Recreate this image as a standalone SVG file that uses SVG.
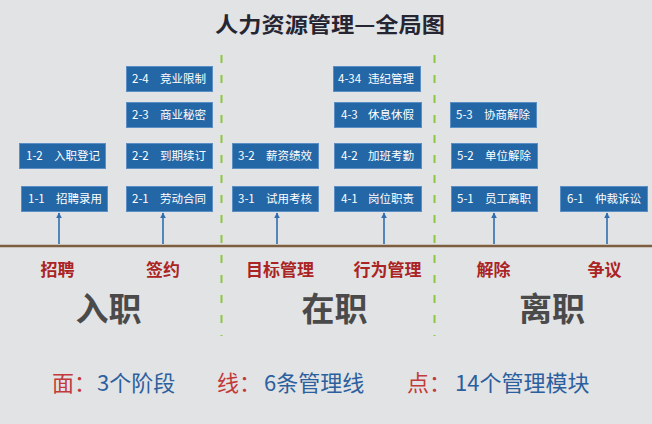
<svg xmlns="http://www.w3.org/2000/svg" width="652" height="424" viewBox="0 0 652 424">
<defs>
<marker id="ah" viewBox="0 0 10 10" refX="9" refY="5" markerWidth="6" markerHeight="6" orient="auto" markerUnits="userSpaceOnUse">
<path d="M0,0 L10,5 L0,10 z" fill="#2f6db0"/>
</marker>
</defs>
<style>
text{font-family:"Noto Sans CJK SC","Noto Sans",sans-serif;}
.box{fill:#2467a6;stroke:#5a8ec4;stroke-width:1;}
.bn{fill:#ffffff;font-size:11.5px;}
.bt{fill:#ffffff;font-size:11.5px;text-anchor:end;}
.conn{stroke:#2f6db0;stroke-width:1.6;fill:none;}
.div{stroke:#8dc63f;stroke-width:2;stroke-dasharray:8 12;fill:none;}
.lbl{fill:#ab2424;font-size:17px;font-weight:bold;text-anchor:middle;}
.big{fill:#4a4a4a;font-size:33px;font-weight:bold;text-anchor:middle;}
.r{fill:#c23a3a;font-size:22px;}
.b{fill:#2c5f9e;font-size:22px;}
</style>
<rect x="0" y="0" width="652" height="424" fill="#e2e3e5"/>
<text x="330" y="32" text-anchor="middle" font-size="21" font-weight="bold" fill="#262633" textLength="230" lengthAdjust="spacingAndGlyphs">人力资源管理—全局图</text>

<g id="dividers">
<line class="div" x1="221.5" y1="55" x2="221.5" y2="336"/>
<line class="div" x1="434.5" y1="55" x2="434.5" y2="336"/>
</g>

<line x1="0" y1="246" x2="652" y2="246" stroke="#7d5f3f" stroke-width="2.5"/>

<g id="connectors">
<line class="conn" x1="59" y1="244" x2="59" y2="213" marker-end="url(#ah)"/>
<line class="conn" x1="163" y1="244" x2="163" y2="213" marker-end="url(#ah)"/>
<line class="conn" x1="277" y1="244" x2="277" y2="213" marker-end="url(#ah)"/>
<line class="conn" x1="384" y1="244" x2="384" y2="213" marker-end="url(#ah)"/>
<line class="conn" x1="494" y1="244" x2="494" y2="213" marker-end="url(#ah)"/>
<line class="conn" x1="607" y1="244" x2="607" y2="213" marker-end="url(#ah)"/>
</g>

<g id="n1-2"><rect class="box" x="19.5" y="143.5" width="86" height="25"/><text class="bn" x="26" y="160">1-2</text><text class="bt" x="100" y="160">入职登记</text></g>
<g id="n1-1"><rect class="box" x="21.5" y="186.5" width="86" height="25"/><text class="bn" x="28" y="203">1-1</text><text class="bt" x="102" y="203">招聘录用</text></g>

<g id="n2-4"><rect class="box" x="126.5" y="66.5" width="86" height="25"/><text class="bn" x="132" y="83">2-4</text><text class="bt" x="206" y="83">竞业限制</text></g>
<g id="n2-3"><rect class="box" x="126.5" y="102.5" width="86" height="25"/><text class="bn" x="132" y="119">2-3</text><text class="bt" x="206" y="119">商业秘密</text></g>
<g id="n2-2"><rect class="box" x="126.5" y="143.5" width="86" height="25"/><text class="bn" x="132" y="160">2-2</text><text class="bt" x="206" y="160">到期续订</text></g>
<g id="n2-1"><rect class="box" x="126.5" y="186.5" width="86" height="25"/><text class="bn" x="132" y="203">2-1</text><text class="bt" x="206" y="203">劳动合同</text></g>

<g id="n3-2"><rect class="box" x="232.5" y="143.5" width="86" height="25"/><text class="bn" x="238" y="160">3-2</text><text class="bt" x="312" y="160">薪资绩效</text></g>
<g id="n3-1"><rect class="box" x="232.5" y="186.5" width="86" height="25"/><text class="bn" x="238" y="203">3-1</text><text class="bt" x="312" y="203">试用考核</text></g>

<g id="n4-34"><rect class="box" x="333.5" y="66.5" width="87" height="25"/><text class="bn" x="338" y="83">4-34</text><text class="bt" x="414" y="83">违纪管理</text></g>
<g id="n4-3"><rect class="box" x="334.5" y="102.5" width="87" height="25"/><text class="bn" x="341" y="119">4-3</text><text class="bt" x="414" y="119">休息休假</text></g>
<g id="n4-2"><rect class="box" x="334.5" y="143.5" width="87" height="25"/><text class="bn" x="341" y="160">4-2</text><text class="bt" x="414" y="160">加班考勤</text></g>
<g id="n4-1"><rect class="box" x="334.5" y="186.5" width="87" height="25"/><text class="bn" x="341" y="203">4-1</text><text class="bt" x="414" y="203">岗位职责</text></g>

<g id="n5-3"><rect class="box" x="450.5" y="102.5" width="86" height="25"/><text class="bn" x="456" y="119">5-3</text><text class="bt" x="530" y="119">协商解除</text></g>
<g id="n5-2"><rect class="box" x="451.5" y="143.5" width="86" height="25"/><text class="bn" x="457" y="160">5-2</text><text class="bt" x="531" y="160">单位解除</text></g>
<g id="n5-1"><rect class="box" x="451.5" y="186.5" width="86" height="25"/><text class="bn" x="457" y="203">5-1</text><text class="bt" x="531" y="203">员工离职</text></g>

<g id="n6-1"><rect class="box" x="560.5" y="186.5" width="87" height="25"/><text class="bn" x="567" y="203">6-1</text><text class="bt" x="641" y="203">仲裁诉讼</text></g>

<g id="labels">
<text class="lbl" x="57.5" y="276">招聘</text>
<text class="lbl" x="163" y="276">签约</text>
<text class="lbl" x="280" y="276">目标管理</text>
<text class="lbl" x="387.5" y="276">行为管理</text>
<text class="lbl" x="493.5" y="276">解除</text>
<text class="lbl" x="604.5" y="276">争议</text>
</g>

<g id="stages">
<text class="big" x="108.5" y="321">入职</text>
<text class="big" x="334.5" y="321">在职</text>
<text class="big" x="552" y="321">离职</text>
</g>

<g id="summary">
<text class="r" x="52" y="391">面：</text><text class="b" x="97" y="391">3个阶段</text>
<text class="r" x="217" y="391">线：</text><text class="b" x="264" y="391">6条管理线</text>
<text class="r" x="407" y="391">点：</text><text class="b" x="455" y="391">14个管理模块</text>
</g>
</svg>
